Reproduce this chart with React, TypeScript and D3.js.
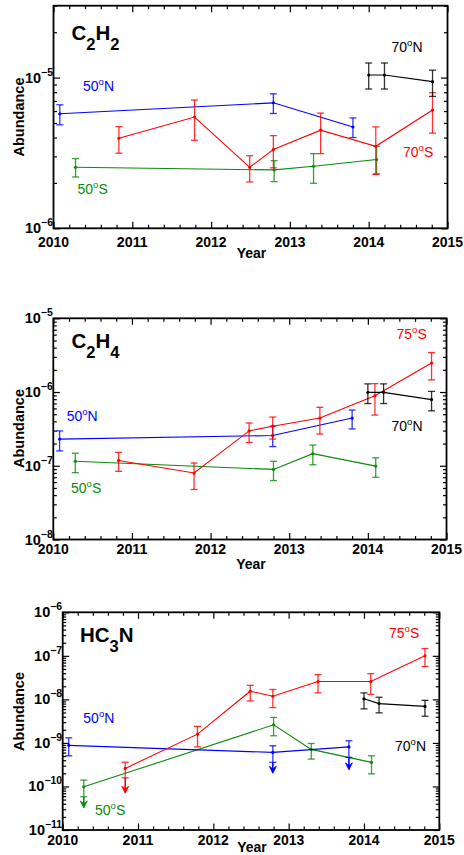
import * as d3 from 'd3';
import { useEffect, useRef } from 'react';

const WIDTH = 464;
const HEIGHT = 855;

// observation epochs (decimal year) for each latitude
const YEARS_50N = [2010.08, 2012.79, 2013.8];
const YEARS_70S = [2010.83, 2011.79, 2012.49, 2012.79, 2013.39, 2014.09, 2014.81];
const YEARS_50S = [2010.28, 2012.8, 2013.3, 2014.1];
const YEARS_70N = [2014.0, 2014.2, 2014.81];
const YEAR_TICKS = [2010, 2011, 2012, 2013, 2014, 2015];

// C2H2
const C2H2_50N = [5.75e-6, 6.8e-6, 4.7e-6];
const C2H2_50N_HI = [6.6e-6, 7.8e-6, 5.4e-6];
const C2H2_50N_LO = [4.86e-6, 5.78e-6, 4.0e-6];
const C2H2_70S = [3.96e-6, 5.47e-6, 2.54e-6, 3.33e-6, 4.48e-6, 3.5e-6, 6.09e-6];
const C2H2_70S_HI = [4.73e-6, 7.1e-6, 3.03e-6, 4.12e-6, 5.81e-6, 4.71e-6, 7.94e-6];
const C2H2_70S_LO = [3.15e-6, 3.84e-6, 2.03e-6, 2.52e-6, 3.13e-6, 2.28e-6, 4.28e-6];
const C2H2_50S = [2.54e-6, 2.44e-6, 2.58e-6, 2.86e-6];
const C2H2_50S_HI = [2.9e-6, 2.81e-6, 3.13e-6, 3.5e-6];
const C2H2_50S_LO = [2.19e-6, 2.04e-6, 1.99e-6, 2.3e-6];
const C2H2_70N = [1.04e-5, 1.04e-5, 9.4e-6];
const C2H2_70N_HI = [1.25e-5, 1.25e-5, 1.12e-5];
const C2H2_70N_LO = [8.4e-6, 8.4e-6, 7.5e-6];
const C2H2_DECADES = [-6, -5];

// C2H4
const C2H4_50N = [2.3e-7, 2.57e-7, 4.44e-7];
const C2H4_50N_HI = [2.97e-7, 3.44e-7, 5.7e-7];
const C2H4_50N_LO = [1.59e-7, 1.82e-7, 3.16e-7];
const C2H4_75S = [1.18e-7, 7.97e-8, 2.97e-7, 3.44e-7, 4.44e-7, 8.9e-7, 2.47e-6];
const C2H4_75S_HI = [1.52e-7, 1.09e-7, 3.8e-7, 4.58e-7, 6.2e-7, 1.3e-6, 3.43e-6];
const C2H4_75S_LO = [8.4e-8, 4.77e-8, 2.07e-7, 2.3e-7, 2.69e-7, 4.87e-7, 1.46e-6];
const C2H4_50S = [1.15e-7, 8.93e-8, 1.46e-7, 9.9e-8];
const C2H4_50S_HI = [1.48e-7, 1.15e-7, 1.91e-7, 1.28e-7];
const C2H4_50S_LO = [8.06e-8, 6.3e-8, 1.03e-7, 6.98e-8];
const C2H4_70N = [9.9e-7, 9.9e-7, 7.9e-7];
const C2H4_70N_HI = [1.29e-6, 1.29e-6, 1.02e-6];
const C2H4_70N_LO = [6.98e-7, 6.98e-7, 5.56e-7];
const C2H4_DECADES = [-8, -7, -6, -5];

// HC3N (LIM = tip of the upper-limit arrow)
const HC3N_50N = [8.8e-10, 6.05e-10, 8.1e-10];
const HC3N_50N_HI = [1.31e-9, 8.6e-10, 1.12e-9];
const HC3N_50N_LO = [5.06e-10, 3.57e-10, 4.65e-10];
const HC3N_50N_LIM = [null, 2.0e-10, 2.4e-10];
const HC3N_75S = [2.6e-10, 1.59e-9, 1.54e-8, 1.18e-8, 2.57e-8, 2.57e-8, 1.0e-7];
const HC3N_75S_HI = [3.6e-10, 2.4e-9, 2.1e-8, 1.69e-8, 3.7e-8, 3.9e-8, 1.47e-7];
const HC3N_75S_LO = [1.58e-10, 8.1e-10, 9.2e-9, 6.5e-9, 1.41e-8, 1.3e-8, 5.7e-8];
const HC3N_75S_LIM = [7.0e-11, null, null, null, null, null, null];
const HC3N_50S = [9.8e-11, 2.6e-9, 7.1e-10, 3.57e-10];
const HC3N_50S_HI = [1.4e-10, 3.85e-9, 9.7e-10, 5.06e-10];
const HC3N_50S_LO = [5.8e-11, 1.46e-9, 4.25e-10, 1.95e-10];
const HC3N_50S_LIM = [3.2e-11, null, null, null];
const HC3N_70N = [1.03e-8, 8.0e-9, 6.9e-9];
const HC3N_70N_HI = [1.41e-8, 1.12e-8, 9.5e-9];
const HC3N_70N_LO = [6.05e-9, 4.9e-9, 4.1e-9];
const HC3N_DECADES = [-11, -10, -9, -8, -7, -6];

const BLUE = '#0000ff';
const RED = '#ff0000';
const GREEN = '#0b8a0b';
const BLACK = '#000000';
const FONT = '"Liberation Sans", Arial, Helvetica, sans-serif';

type Series = {
  years: number[];
  val: number[];
  hi: number[];
  lo: number[];
  lim?: (number | null)[];
  color: string;
};

type Label = { x: number; y: number; num: string; dir: string; color: string };

type Panel = {
  left: number;
  right: number;
  top: number;
  bottom: number;
  yMin: number;
  yMax: number;
  decades: number[];
  title: [string, boolean][];
  titleX: number;
  titleY: number;
  tickY: number;
  yearY: number;
  abundY: number;
  series: Series[];
  labels: Label[];
};

const panels: Panel[] = [
  {
    left: 53.5, right: 447.5, top: 5.7, bottom: 228.3,
    yMin: 1e-6, yMax: 3e-5, decades: C2H2_DECADES,
    title: [['C', false], ['2', true], ['H', false], ['2', true]],
    titleX: 71.5, titleY: 40, tickY: 246.5, yearY: 258.3, abundY: 117,
    series: [
      { years: YEARS_50S, val: C2H2_50S, hi: C2H2_50S_HI, lo: C2H2_50S_LO, color: GREEN },
      { years: YEARS_50N, val: C2H2_50N, hi: C2H2_50N_HI, lo: C2H2_50N_LO, color: BLUE },
      { years: YEARS_70S, val: C2H2_70S, hi: C2H2_70S_HI, lo: C2H2_70S_LO, color: RED },
      { years: YEARS_70N, val: C2H2_70N, hi: C2H2_70N_HI, lo: C2H2_70N_LO, color: BLACK },
    ],
    labels: [
      { x: 83, y: 90.7, num: '50', dir: 'N', color: BLUE },
      { x: 391.5, y: 51.7, num: '70', dir: 'N', color: BLACK },
      { x: 403, y: 156.7, num: '70', dir: 'S', color: RED },
      { x: 77.5, y: 194, num: '50', dir: 'S', color: GREEN },
    ],
  },
  {
    left: 53.3, right: 446.5, top: 318.3, bottom: 539.5,
    yMin: 1e-8, yMax: 1e-5, decades: C2H4_DECADES,
    title: [['C', false], ['2', true], ['H', false], ['4', true]],
    titleX: 71.5, titleY: 347.7, tickY: 554, yearY: 568.5, abundY: 428.5,
    series: [
      { years: YEARS_50S, val: C2H4_50S, hi: C2H4_50S_HI, lo: C2H4_50S_LO, color: GREEN },
      { years: YEARS_50N, val: C2H4_50N, hi: C2H4_50N_HI, lo: C2H4_50N_LO, color: BLUE },
      { years: YEARS_70S, val: C2H4_75S, hi: C2H4_75S_HI, lo: C2H4_75S_LO, color: RED },
      { years: YEARS_70N, val: C2H4_70N, hi: C2H4_70N_HI, lo: C2H4_70N_LO, color: BLACK },
    ],
    labels: [
      { x: 396.5, y: 339.3, num: '75', dir: 'S', color: RED },
      { x: 66.7, y: 420.7, num: '50', dir: 'N', color: BLUE },
      { x: 391.5, y: 430.7, num: '70', dir: 'N', color: BLACK },
      { x: 71, y: 492.7, num: '50', dir: 'S', color: GREEN },
    ],
  },
  {
    left: 62.7, right: 439.3, top: 612.3, bottom: 830,
    yMin: 1e-11, yMax: 1e-6, decades: HC3N_DECADES,
    title: [['HC', false], ['3', true], ['N', false]],
    titleX: 80, titleY: 641.7, tickY: 845, yearY: 852, abundY: 711.5,
    series: [
      { years: YEARS_50S, val: HC3N_50S, hi: HC3N_50S_HI, lo: HC3N_50S_LO, lim: HC3N_50S_LIM, color: GREEN },
      { years: YEARS_50N, val: HC3N_50N, hi: HC3N_50N_HI, lo: HC3N_50N_LO, lim: HC3N_50N_LIM, color: BLUE },
      { years: YEARS_70S, val: HC3N_75S, hi: HC3N_75S_HI, lo: HC3N_75S_LO, lim: HC3N_75S_LIM, color: RED },
      { years: YEARS_70N, val: HC3N_70N, hi: HC3N_70N_HI, lo: HC3N_70N_LO, color: BLACK },
    ],
    labels: [
      { x: 389, y: 637.7, num: '75', dir: 'S', color: RED },
      { x: 83.3, y: 723.3, num: '50', dir: 'N', color: BLUE },
      { x: 395, y: 750.7, num: '70', dir: 'N', color: BLACK },
      { x: 95, y: 815, num: '50', dir: 'S', color: GREEN },
    ],
  },
];

const drawPanel = (svg: d3.Selection<SVGSVGElement, unknown, null, undefined>, p: Panel) => {
  const x = d3.scaleLinear().domain([2010, 2015]).range([p.left, p.right]);
  const y = d3.scaleLog().domain([p.yMin, p.yMax]).range([p.bottom, p.top]);
  const g = svg.append('g');

  // tick values
  const minorX = d3.range(0, 26).map((i) => 2010 + i * 0.2).filter((v) => Math.abs(v - Math.round(v)) > 1e-6);
  const e0 = Math.floor(Math.log10(p.yMin));
  const e1 = Math.ceil(Math.log10(p.yMax));
  const minorY: number[] = [];
  const majorY: number[] = [];
  d3.range(e0, e1 + 1).forEach((e) => {
    d3.range(1, 10).forEach((m) => {
      const v = m * Math.pow(10, e);
      if (v < p.yMin * 0.999 || v > p.yMax * 1.001) return;
      if (m === 1) majorY.push(v);
      else minorY.push(v);
    });
  });

  // inward ticks on all four sides
  const noLabel = () => '';
  const axes: [any, string][] = [
    [d3.axisBottom(x).tickValues(minorX).tickSize(-3.5), `translate(0,${p.bottom})`],
    [d3.axisBottom(x).tickValues(YEAR_TICKS).tickSize(-6.5), `translate(0,${p.bottom})`],
    [d3.axisTop(x).tickValues(minorX).tickSize(-3.5), `translate(0,${p.top})`],
    [d3.axisTop(x).tickValues(YEAR_TICKS).tickSize(-6.5), `translate(0,${p.top})`],
    [d3.axisLeft(y).tickValues(minorY).tickSize(-3.5), `translate(${p.left},0)`],
    [d3.axisLeft(y).tickValues(majorY).tickSize(-6.5), `translate(${p.left},0)`],
    [d3.axisRight(y).tickValues(minorY).tickSize(-3.5), `translate(${p.right},0)`],
    [d3.axisRight(y).tickValues(majorY).tickSize(-6.5), `translate(${p.right},0)`],
  ];
  axes.forEach(([axis, tr]) => {
    g.append('g')
      .attr('transform', tr)
      .call(axis.tickFormat(noLabel))
      .call((a: any) => a.select('.domain').remove())
      .selectAll('line')
      .attr('stroke', '#000')
      .attr('stroke-width', 1.2);
  });

  // frame
  g.append('rect')
    .attr('x', p.left)
    .attr('y', p.top)
    .attr('width', p.right - p.left)
    .attr('height', p.bottom - p.top)
    .attr('fill', 'none')
    .attr('stroke', '#000')
    .attr('stroke-width', 1.8);

  // x tick labels
  g.selectAll('.xlab')
    .data(YEAR_TICKS)
    .enter()
    .append('text')
    .attr('x', (d) => x(d))
    .attr('y', p.tickY)
    .attr('text-anchor', 'middle')
    .attr('font-family', FONT)
    .attr('font-weight', 'bold')
    .attr('font-size', 15)
    .attr('textLength', 31)
    .attr('lengthAdjust', 'spacingAndGlyphs')
    .text((d) => String(d));

  // y tick labels 10^n
  p.decades.forEach((e) => {
    const t = g.append('text')
      .attr('x', p.left - 0.5)
      .attr('y', y(Math.pow(10, e)) + 5)
      .attr('text-anchor', 'end')
      .attr('font-family', FONT)
      .attr('font-weight', 'bold')
      .attr('font-size', 14.5);
    t.append('tspan').text('10');
    t.append('tspan').attr('dy', -7).attr('font-size', 10.5).text(`\u2212${-e}`);
  });

  // axis titles
  g.append('text')
    .attr('x', (p.left + p.right) / 2 + 1)
    .attr('y', p.yearY)
    .attr('text-anchor', 'middle')
    .attr('font-family', FONT)
    .attr('font-weight', 'bold')
    .attr('font-size', 15.5)
    .attr('textLength', 29.5)
    .attr('lengthAdjust', 'spacingAndGlyphs')
    .text('Year');

  g.append('text')
    .attr('transform', `translate(23.5,${p.abundY}) rotate(-90)`)
    .attr('text-anchor', 'middle')
    .attr('font-family', FONT)
    .attr('font-weight', 'bold')
    .attr('font-size', 14.5)
    .text('Abundance');

  // molecule name
  const title = g.append('text')
    .attr('x', p.titleX)
    .attr('y', p.titleY)
    .attr('font-family', FONT)
    .attr('font-weight', 'bold')
    .attr('font-size', 20.5);
  let sub = false;
  p.title.forEach(([s, isSub]) => {
    const dy = isSub === sub ? 0 : isSub ? 10 : -10;
    sub = isSub;
    title.append('tspan').attr('dy', dy).attr('font-size', isSub ? 16.5 : 20.5).text(s);
  });

  // data
  p.series.forEach((s) => {
    const pts = s.years.map((yr, i) => [x(yr), y(s.val[i])] as [number, number]);
    g.append('path')
      .attr('d', d3.line()(pts) || '')
      .attr('fill', 'none')
      .attr('stroke', s.color)
      .attr('stroke-width', 1.1);

    const cap = 3.5;
    s.years.forEach((yr, i) => {
      const cx = x(yr);
      const yh = y(s.hi[i]);
      const yl = y(s.lo[i]);
      const eb = g.append('g').attr('stroke', s.color).attr('stroke-width', 1.3).attr('stroke-opacity', 0.8);
      eb.append('line').attr('x1', cx).attr('x2', cx).attr('y1', yh).attr('y2', yl);
      eb.append('line').attr('x1', cx - cap).attr('x2', cx + cap).attr('y1', yh).attr('y2', yh);
      eb.append('line').attr('x1', cx - cap).attr('x2', cx + cap).attr('y1', yl).attr('y2', yl);

      // upper limit: arrow down from the lower bar
      const lim = s.lim ? s.lim[i] : null;
      if (lim != null) {
        const tip = y(lim);
        g.append('line')
          .attr('x1', cx).attr('x2', cx)
          .attr('y1', yl).attr('y2', tip - 3)
          .attr('stroke', s.color)
          .attr('stroke-width', 1.6);
        g.append('path')
          .attr('d', `M${cx - 3.5},${tip - 7}L${cx},${tip - 4.5}L${cx + 3.5},${tip - 7}L${cx},${tip}Z`)
          .attr('fill', s.color)
          .attr('stroke', s.color)
          .attr('stroke-width', 0.8);
      }

      g.append('circle')
        .attr('cx', cx)
        .attr('cy', y(s.val[i]))
        .attr('r', 1.6)
        .attr('fill', s.color);
    });
  });

  // latitude labels
  p.labels.forEach((l) => {
    const t = g.append('text')
      .attr('x', l.x)
      .attr('y', l.y)
      .attr('font-family', FONT)
      .attr('font-size', 14)
      .attr('fill', l.color);
    t.append('tspan').text(l.num);
    t.append('tspan').attr('dy', -6).attr('font-size', 9.5).text('o');
    t.append('tspan').attr('dy', 6).text(l.dir);
  });
};

export default function App() {
  const ref = useRef<SVGSVGElement>(null);

  useEffect(() => {
    if (!ref.current) return;
    const svg = d3.select(ref.current);
    svg.selectAll('*').remove();
    svg.append('rect').attr('width', WIDTH).attr('height', HEIGHT).attr('fill', '#fff');
    panels.forEach((p) => drawPanel(svg, p));
  }, []);

  return (
    <svg
      ref={ref}
      width={WIDTH}
      height={HEIGHT}
      style={{ position: 'absolute', left: 0, top: 0, display: 'block' }}
    />
  );
}
